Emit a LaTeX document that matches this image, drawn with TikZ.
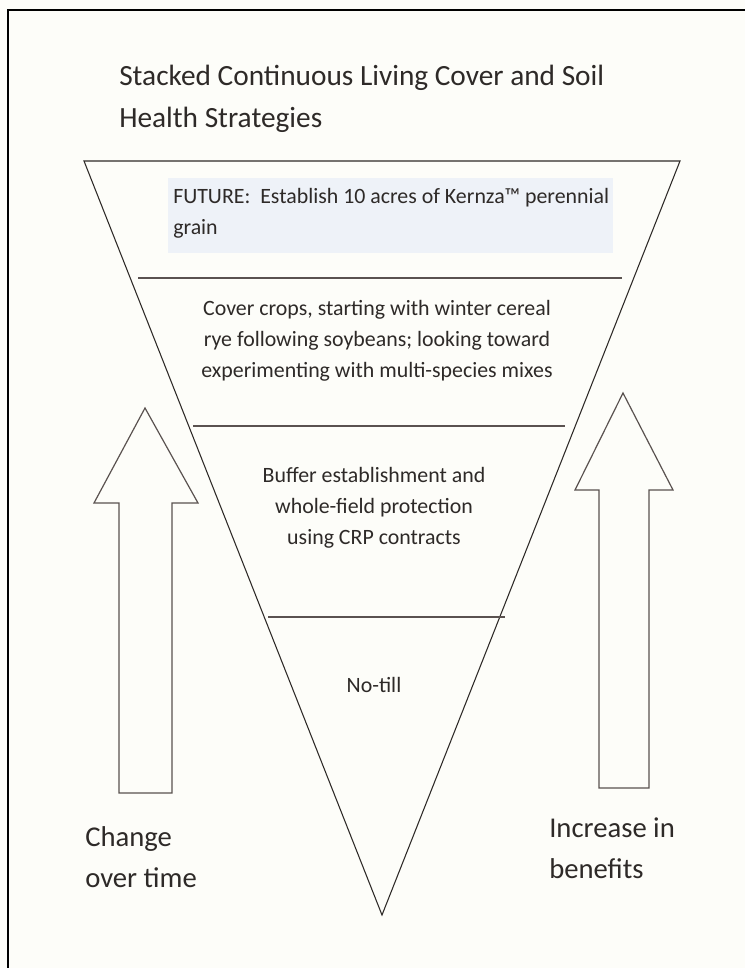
\documentclass[tikz,border=0pt]{standalone}
\usepackage{fontspec}
\setmainfont{Carlito}
\usetikzlibrary{calc}
\definecolor{paper}{HTML}{FDFDF9}
\definecolor{boxfill}{HTML}{EEF2F8}
\definecolor{rulegray}{HTML}{5A5250}
\definecolor{inkgray}{HTML}{2E2A28}
\tikzset{
  bodytext/.style={font=\fontsize{16.4}{23.3}\selectfont, text=inkgray, align=center, inner sep=0pt},
  sidetext/.style={font=\fontsize{21.5}{31}\selectfont, text=inkgray, align=left, inner sep=0pt, anchor=west},
  tierline/.style={rulegray, line width=1.1pt},
  bigarrow/.style={rulegray, line width=0.9pt, line join=miter}
}
\begin{document}
\begin{tikzpicture}[x=0.75pt,y=-0.75pt]
    \fill[paper] (0,0) rectangle (745,968);
    \useasboundingbox (0,0) rectangle (745,968);
    %Frame
    \draw[line width=2.2pt] (8,968) -- (8,10) -- (745,10);
    %Title
    \node[sidetext, font=\fontsize{22}{31.5}\selectfont] (title) at (119,99) {Stacked Continuous Living Cover and Soil\\Health Strategies};
    %Triangle
    \coordinate (tl) at (84,161);
    \coordinate (tr) at (680,161);
    \coordinate (tip) at (382,915);
    \draw[inkgray, line width=0.8pt] (tl) -- (tr) -- (tip) -- cycle;
    %Future box
    \fill[boxfill] (168,178) rectangle (613,253);
    \node[bodytext, align=left, anchor=west] (future) at (173,213) {FUTURE:\ \ Establish 10 acres of Kernza™ perennial\\grain};
    %Tiers
    \draw[tierline] (138,278) -- (622,278);
    \node[bodytext] (cover) at (377,341) {Cover crops, starting with winter cereal\\rye following soybeans; looking toward\\experimenting with multi-species mixes};
    \draw[tierline] (193,426) -- (565,426);
    \node[bodytext] (buffer) at (374,508) {Buffer establishment and\\whole-field protection\\using CRP contracts};
    \draw[tierline] (268,617) -- (505,617);
    \node[bodytext] (notill) at (374,685) {No-till};
    %Left arrow
    \draw[bigarrow] (119,793) -- (119,503) -- (94,503) -- (145,408) -- (198,503) -- (172,503) -- (172,793) -- cycle;
    \node[sidetext] (change) at (85,857) {Change\\over time};
    %Right arrow
    \draw[bigarrow] (599,788) -- (599,490) -- (575,490) -- (623,393) -- (673,490) -- (649,490) -- (649,788) -- cycle;
    \node[sidetext] (increase) at (549,848) {Increase in\\benefits};
\end{tikzpicture}
\end{document}
